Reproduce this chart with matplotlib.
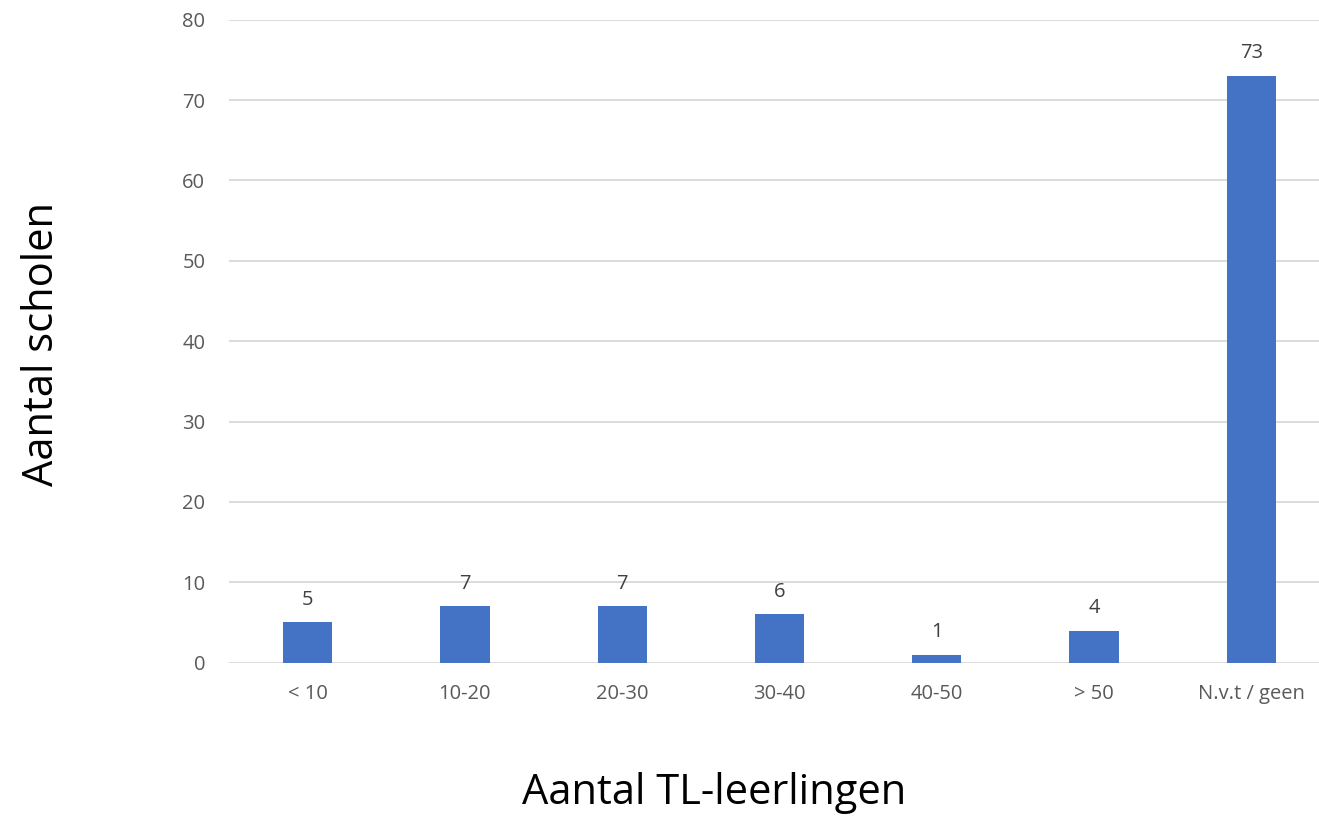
import matplotlib
matplotlib.use('Agg')
import matplotlib.pyplot as plt

categories = ['< 10', '10-20', '20-30', '30-40', '40-50', '> 50', 'N.v.t / geen']
aantal = [5, 7, 7, 6, 1, 4, 73]
yticks = [0, 10, 20, 30, 40, 50, 60, 70, 80]

plt.rcParams['font.family'] = ['Open Sans', 'DejaVu Sans']

fig = plt.figure(figsize=(13.19, 8.16), dpi=100)
ax = fig.add_axes([0.1736, 0.1879, 0.8347, 0.788])

x = range(len(categories))
bars = ax.bar(x, aantal, width=0.313, color='#4472C4', zorder=3)
ax.bar_label(bars, labels=[str(v) for v in aantal], padding=9,
             fontsize=14.5, color='#404040')

ax.set_xlim(-0.5, 6.5)
ax.set_ylim(0, 80)
ax.set_yticks(yticks)
ax.set_xticks(list(x))
ax.set_xticklabels(categories)
ax.tick_params(axis='both', length=0, labelsize=14.5, labelcolor='#595959')
ax.tick_params(axis='y', pad=17)
ax.tick_params(axis='x', pad=15)

ax.grid(axis='y', color='#d9d9d9', linewidth=1.3, zorder=0)
for s in ax.spines.values():
    s.set_visible(False)

fig.text(0.5415, 0.015, 'Aantal TL-leerlingen', fontsize=30, ha='center', va='baseline')
fig.text(0.016, 0.578, 'Aantal scholen', fontsize=30, rotation=90, ha='left', va='center')

fig.savefig('out.png', dpi=100)
